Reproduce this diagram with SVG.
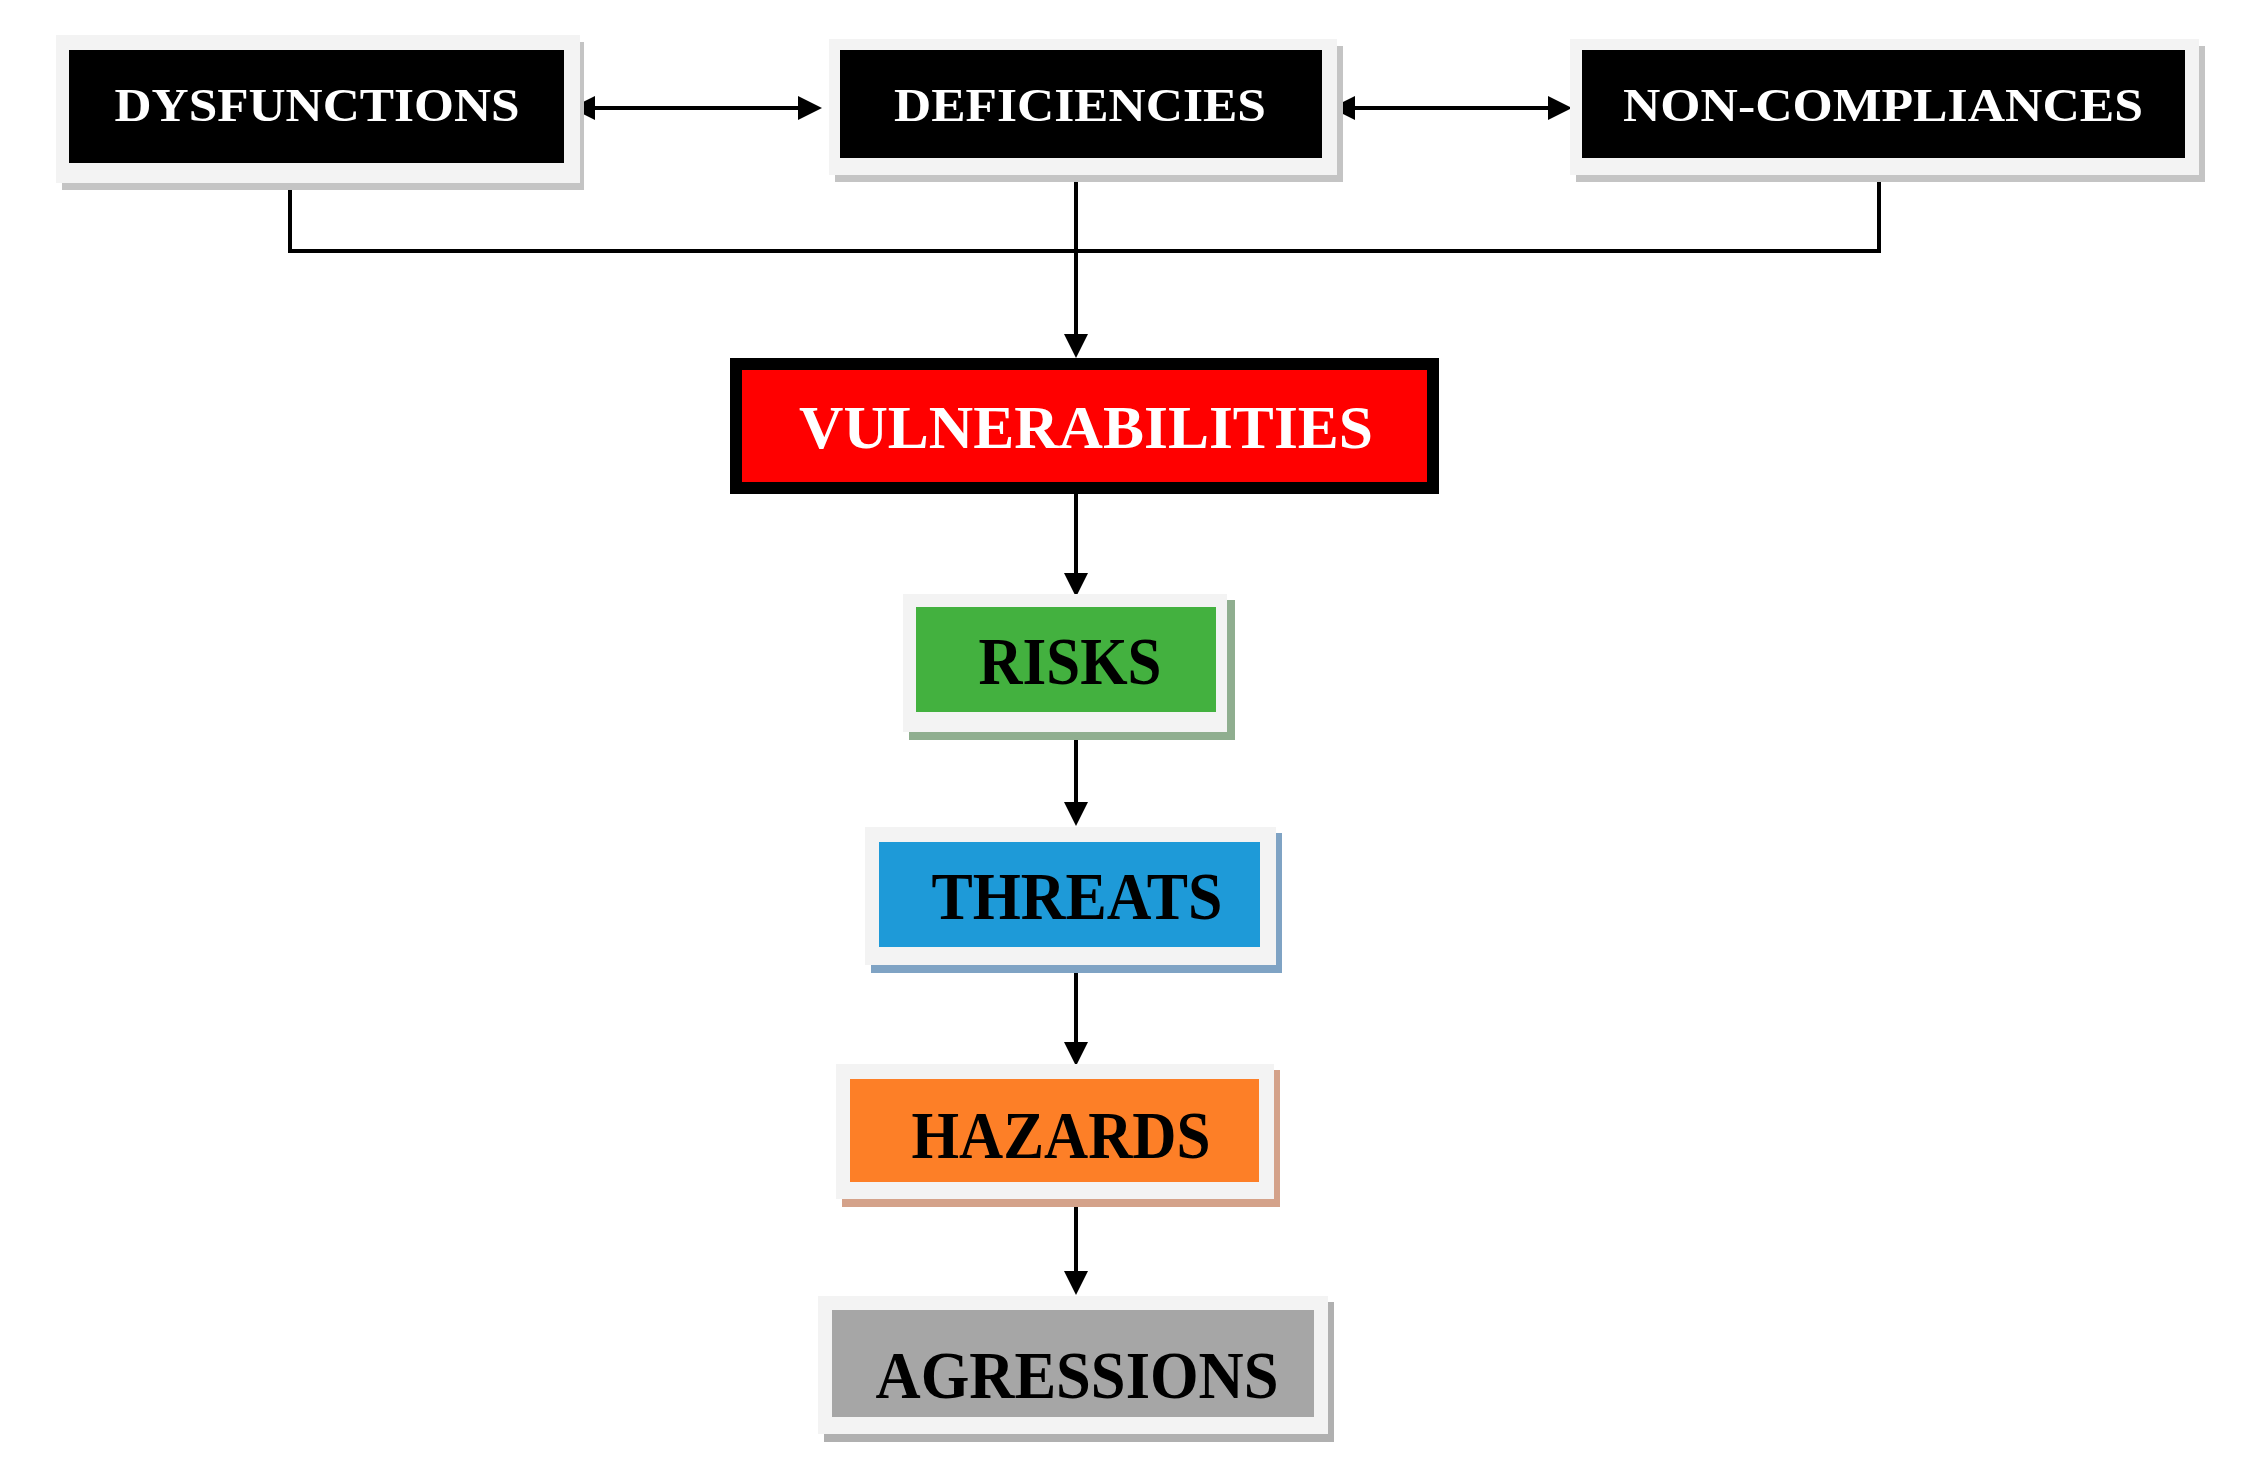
<svg xmlns="http://www.w3.org/2000/svg" width="2241" height="1475" viewBox="0 0 2241 1475">
<style>
.fr{fill:#f3f3f3}
.t{font-family:"Liberation Serif","Times New Roman",serif;font-weight:bold;text-anchor:middle}
.w{fill:#fff}.k{fill:#000}
.c{fill:none;stroke:#000;stroke-width:4}
</style>
<defs>
<marker id="ah" markerWidth="6" markerHeight="6" refX="5" refY="3" orient="auto-start-reverse" markerUnits="strokeWidth"><path d="M0,0 L6,3 L0,6 Z" fill="#000"/></marker>
</defs>
<rect width="2241" height="1475" fill="#fff"/>
<g id="connectors">
<line class="c" x1="575" y1="108" x2="818" y2="108" marker-start="url(#ah)" marker-end="url(#ah)"/>
<line class="c" x1="1335" y1="108" x2="1568" y2="108" marker-start="url(#ah)" marker-end="url(#ah)"/>
<path class="c" d="M290,165 V251 H1879 V165"/>
<line class="c" x1="1076" y1="165" x2="1076" y2="354" marker-end="url(#ah)"/>
<line class="c" x1="1076" y1="494" x2="1076" y2="593" marker-end="url(#ah)"/>
<line class="c" x1="1076" y1="724" x2="1076" y2="822" marker-end="url(#ah)"/>
<line class="c" x1="1076" y1="958" x2="1076" y2="1062" marker-end="url(#ah)"/>
<line class="c" x1="1076" y1="1192" x2="1076" y2="1291" marker-end="url(#ah)"/>
</g>
<g id="dysfunctions">
<rect x="62" y="42" width="522" height="148" fill="#c4c4c4"/>
<rect class="fr" x="56" y="35" width="524" height="148"/>
<rect x="69" y="50" width="495" height="113" fill="#000"/>
<text class="t w" x="317" y="121" font-size="46" textLength="405" lengthAdjust="spacingAndGlyphs">DYSFUNCTIONS</text>
</g>
<g id="deficiencies">
<rect x="835" y="46" width="508" height="136" fill="#c4c4c4"/>
<rect class="fr" x="829" y="39" width="508" height="136"/>
<rect x="840" y="50" width="482" height="108" fill="#000"/>
<text class="t w" x="1080" y="121" font-size="46" textLength="372" lengthAdjust="spacingAndGlyphs">DEFICIENCIES</text>
</g>
<g id="non-compliances">
<rect x="1576" y="46" width="629" height="136" fill="#c4c4c4"/>
<rect class="fr" x="1570" y="39" width="629" height="136"/>
<rect x="1582" y="50" width="603" height="108" fill="#000"/>
<text class="t w" x="1883" y="121" font-size="46" textLength="520" lengthAdjust="spacingAndGlyphs">NON-COMPLIANCES</text>
</g>
<g id="vulnerabilities">
<rect x="730" y="358" width="709" height="136" fill="#000"/>
<rect x="742" y="370" width="685" height="112" fill="#ff0000"/>
<text class="t w" x="1086" y="448" font-size="62" textLength="574" lengthAdjust="spacingAndGlyphs">VULNERABILITIES</text>
</g>
<g id="risks">
<rect x="909" y="600" width="326" height="140" fill="#8fae8f"/>
<rect class="fr" x="903" y="594" width="324" height="138"/>
<rect x="916" y="607" width="300" height="105" fill="#43b13f"/>
<text class="t k" x="1070" y="684" font-size="68" textLength="183" lengthAdjust="spacingAndGlyphs">RISKS</text>
</g>
<g id="threats">
<rect x="871" y="833" width="411" height="140" fill="#7fa3c4"/>
<rect class="fr" x="865" y="827" width="411" height="138"/>
<rect x="879" y="842" width="381" height="105" fill="#1e9ad8"/>
<text class="t k" x="1077" y="919" font-size="68" textLength="291" lengthAdjust="spacingAndGlyphs">THREATS</text>
</g>
<g id="hazards">
<rect x="842" y="1070" width="438" height="137" fill="#d4a28a"/>
<rect class="fr" x="836" y="1064" width="438" height="135"/>
<rect x="850" y="1079" width="409" height="103" fill="#fd7f27"/>
<text class="t k" x="1061" y="1158" font-size="68" textLength="299" lengthAdjust="spacingAndGlyphs">HAZARDS</text>
</g>
<g id="agressions">
<rect x="824" y="1302" width="510" height="140" fill="#b0b0b0"/>
<rect class="fr" x="818" y="1296" width="510" height="138"/>
<rect x="832" y="1310" width="482" height="107" fill="#a6a6a6"/>
<text class="t k" x="1077" y="1398" font-size="68" textLength="403" lengthAdjust="spacingAndGlyphs">AGRESSIONS</text>
</g>
</svg>
